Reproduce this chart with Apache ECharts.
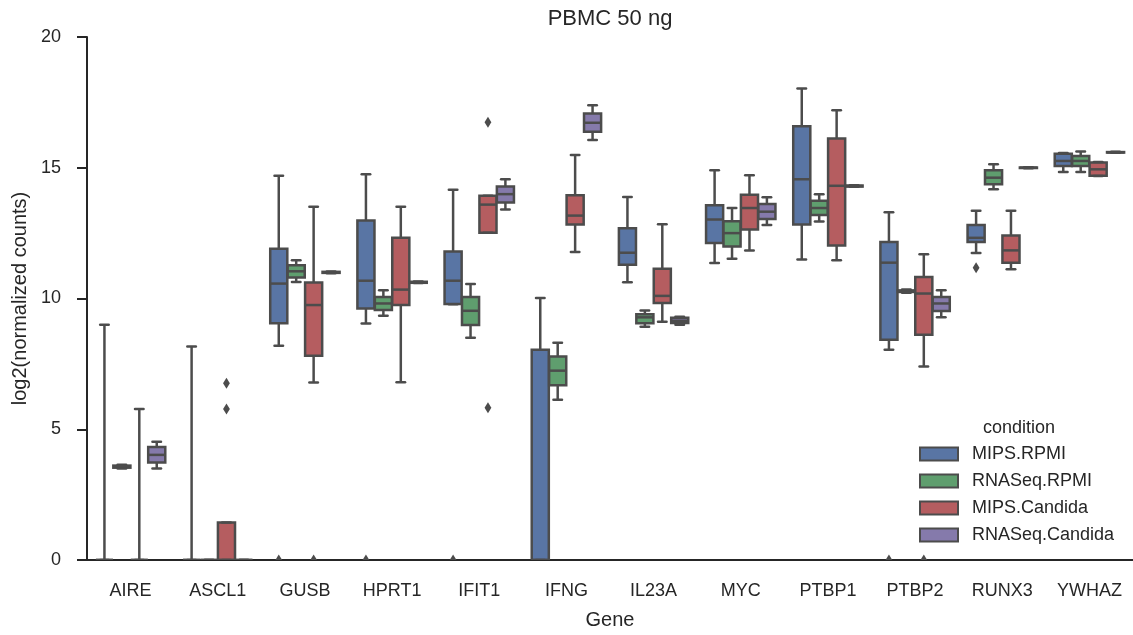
<!DOCTYPE html>
<html>
<head>
<meta charset="utf-8">
<script src="https://cdn.jsdelivr.net/npm/echarts@6/dist/echarts.min.js"></script>
<style>
  html, body { margin: 0; padding: 0; background: #fff; }
  #chart { width: 1133px; height: 635px; }
</style>
</head>
<body>
<div id="chart"></div>
<script>
// genes on the x axis
const genes = ['AIRE', 'ASCL1', 'GUSB', 'HPRT1', 'IFIT1', 'IFNG', 'IL23A', 'MYC', 'PTBP1', 'PTBP2', 'RUNX3', 'YWHAZ']
const conditions = ['MIPS.RPMI', 'RNASeq.RPMI', 'MIPS.Candida', 'RNASeq.Candida']
const conditionColors = ['#5975a4', '#5f9e6e', '#b55d60', '#857aab']

// box stats per gene: [min, q1, median, q3, max]
const mipsRpmi = [
  [0, 0, 0, 0, 9.0],
  [0, 0, 0, 0, 8.16],
  [8.19, 9.05, 10.57, 11.9, 14.69],
  [9.04, 9.62, 10.68, 12.98, 14.75],
  [9.78, 9.79, 10.68, 11.8, 14.16],
  [0, 0, 0, 8.04, 10.02],
  [10.62, 11.29, 11.75, 12.69, 13.88],
  [11.36, 12.12, 13.02, 13.57, 14.9],
  [11.49, 12.83, 14.56, 16.59, 18.03],
  [8.04, 8.42, 11.37, 12.16, 13.3],
  [11.74, 12.16, 12.32, 12.81, 13.36],
  [14.84, 15.07, 15.26, 15.54, 15.56]
]
const rnaseqRpmi = [
  [3.5, 3.53, 3.57, 3.61, 3.64],
  [0, 0, 0, 0, 0],
  [10.63, 10.8, 11.04, 11.27, 11.46],
  [9.34, 9.56, 9.81, 10.06, 10.32],
  [8.5, 8.99, 9.53, 10.06, 10.55],
  [6.13, 6.68, 7.24, 7.78, 8.31],
  [8.92, 9.05, 9.28, 9.4, 9.54],
  [11.52, 11.99, 12.5, 12.95, 13.46],
  [12.94, 13.19, 13.46, 13.74, 13.99],
  [10.22, 10.25, 10.28, 10.31, 10.34],
  [14.18, 14.37, 14.62, 14.9, 15.13],
  [14.84, 15.07, 15.26, 15.45, 15.62]
]
const mipsCandida = [
  [0, 0, 0, 0, 5.77],
  [0, 0, 0, 1.43, 1.43],
  [6.79, 7.81, 9.75, 10.61, 13.51],
  [6.8, 9.75, 10.34, 12.32, 13.51],
  [12.51, 12.51, 13.59, 13.93, 13.93],
  [11.78, 12.83, 13.17, 13.95, 15.49],
  [9.11, 9.83, 10.1, 11.14, 12.84],
  [11.84, 12.64, 13.46, 13.97, 14.71],
  [11.46, 12.03, 14.31, 16.12, 17.2],
  [7.4, 8.61, 10.19, 10.82, 11.69],
  [11.12, 11.37, 11.84, 12.41, 13.36],
  [14.68, 14.69, 14.94, 15.2, 15.22]
]
const rnaseqCandida = [
  [3.5, 3.73, 4.02, 4.32, 4.52],
  [0, 0, 0, 0, 0],
  [10.97, 10.98, 11.0, 11.02, 11.03],
  [10.59, 10.6, 10.62, 10.64, 10.65],
  [13.4, 13.67, 13.99, 14.28, 14.56],
  [16.06, 16.38, 16.72, 17.07, 17.39],
  [9.0, 9.06, 9.15, 9.26, 9.3],
  [12.81, 13.04, 13.32, 13.61, 13.87],
  [14.27, 14.28, 14.3, 14.32, 14.33],
  [9.28, 9.52, 9.81, 10.06, 10.32],
  [14.98, 14.99, 15.0, 15.01, 15.02],
  [15.57, 15.58, 15.59, 15.6, 15.61]
]
const boxStats = [mipsRpmi, rnaseqRpmi, mipsCandida, rnaseqCandida]

// outliers: [gene, condition index, value]
const outliers = [
  ['ASCL1', 2, 6.76],
  ['ASCL1', 2, 5.77],
  ['GUSB', 0, 0],
  ['GUSB', 2, 0],
  ['HPRT1', 0, 0],
  ['IFIT1', 0, 0],
  ['IFIT1', 2, 16.74],
  ['IFIT1', 2, 5.82],
  ['PTBP2', 0, 0],
  ['PTBP2', 2, 0],
  ['RUNX3', 0, 11.18]
]

const edgeColor = '#4c4c4c'
const textColor = '#262626'
const fontFamily = '"Liberation Sans", Arial, sans-serif'
const lw = 2.5

// x position of a condition's box inside a gene's band
function boxCenter(api, gi, ci) {
  const band = api.size([1, 0])[0]
  const w = band * 0.8 / 4
  return { cx: api.coord([gi, 0])[0] + (ci - 1.5) * w, w: w }
}

function makeBoxRenderer(ci) {
  return function (params, api) {
    const gi = api.value(0)
    const { cx, w } = boxCenter(api, gi, ci)
    const y = k => api.coord([gi, api.value(k)])[1]
    const yMin = y(1), yQ1 = y(2), yMed = y(3), yQ3 = y(4), yMax = y(5)
    const bw = w * 0.98
    const cap = bw * 0.25
    const line = (x1, y1, x2, y2, cap) => ({
      type: 'line',
      shape: { x1, y1, x2, y2 },
      style: { stroke: edgeColor, lineWidth: lw, lineCap: cap || 'butt' }
    })
    return {
      type: 'group',
      children: [
        line(cx, yQ3, cx, yMax),
        line(cx, yQ1, cx, yMin),
        {
          type: 'rect',
          shape: { x: cx - bw / 2, y: yQ3, width: bw, height: yQ1 - yQ3 },
          style: { fill: conditionColors[ci], stroke: edgeColor, lineWidth: lw }
        },
        line(cx - bw / 2, yMed, cx + bw / 2, yMed),
        line(cx - cap, yMax, cx + cap, yMax, 'round'),
        line(cx - cap, yMin, cx + cap, yMin, 'round')
      ]
    }
  }
}

function renderOutlier(params, api) {
  const gi = api.value(0)
  const ci = api.value(1)
  const { cx } = boxCenter(api, gi, ci)
  const cy = api.coord([gi, api.value(2)])[1]
  return {
    type: 'polygon',
    shape: { points: [[cx, cy - 5.5], [cx + 3.4, cy], [cx, cy + 5.5], [cx - 3.4, cy]] },
    style: { fill: edgeColor }
  }
}

const series = conditions.map((name, ci) => ({
  type: 'custom',
  name: name,
  renderItem: makeBoxRenderer(ci),
  data: boxStats[ci].map((s, gi) => [gi].concat(s)),
  encode: { x: 0, y: [1, 2, 3, 4, 5] },
  itemStyle: { color: conditionColors[ci] },
  clip: true,
  silent: true
}))
series.push({
  type: 'custom',
  name: 'outliers',
  renderItem: renderOutlier,
  data: outliers.map(([g, ci, v]) => [genes.indexOf(g), ci, v]),
  encode: { x: 0, y: 2 },
  clip: true,
  silent: true
})

const chart = echarts.init(document.getElementById('chart'))
chart.setOption({
  animation: false,
  backgroundColor: '#fff',
  textStyle: { fontFamily: fontFamily },
  title: {
    text: 'PBMC 50 ng',
    left: 610,
    top: 8,
    textAlign: 'center',
    padding: 0,
    textStyle: { fontSize: 22, fontWeight: 'normal', color: textColor, fontFamily: fontFamily }
  },
  grid: { left: 87, top: 37, width: 1050, height: 526 },
  legend: {
    data: conditions.map((c, i) => ({
      name: c,
      icon: 'rect',
      itemStyle: { color: conditionColors[i], borderColor: edgeColor, borderWidth: 2 }
    })),
    orient: 'vertical',
    left: 919,
    top: 445,
    padding: 0,
    itemWidth: 38,
    itemHeight: 13,
    itemGap: 9,
    selectedMode: false,
    textStyle: { fontSize: 18, color: textColor, fontFamily: fontFamily, padding: [0, 0, 0, 9] }
  },
  graphic: [{
    type: 'text',
    x: 1019,
    y: 428,
    style: {
      text: 'condition',
      align: 'center',
      verticalAlign: 'middle',
      fontSize: 18,
      fill: textColor,
      fontFamily: fontFamily
    }
  }],
  xAxis: {
    type: 'category',
    data: genes,
    name: 'Gene',
    nameLocation: 'middle',
    nameGap: 50,
    nameTextStyle: { fontSize: 20, color: textColor, fontFamily: fontFamily },
    axisLine: { lineStyle: { color: textColor, width: 2 } },
    axisTick: { alignWithLabel: true, length: 10, lineStyle: { color: textColor, width: 2 } },
    axisLabel: { fontSize: 18, color: textColor, margin: 22, fontFamily: fontFamily },
    splitLine: { show: false }
  },
  yAxis: {
    type: 'value',
    min: 0,
    max: 20,
    interval: 5,
    name: 'log2(normalized counts)',
    nameLocation: 'middle',
    nameGap: 57,
    nameTextStyle: { fontSize: 20, color: textColor, fontFamily: fontFamily },
    axisLine: { show: true, lineStyle: { color: textColor, width: 2 } },
    axisTick: { show: true, length: 10, lineStyle: { color: textColor, width: 2 } },
    axisLabel: { fontSize: 18, color: textColor, margin: 26, fontFamily: fontFamily },
    splitLine: { show: false }
  },
  series: series
})
</script>
</body>
</html>
